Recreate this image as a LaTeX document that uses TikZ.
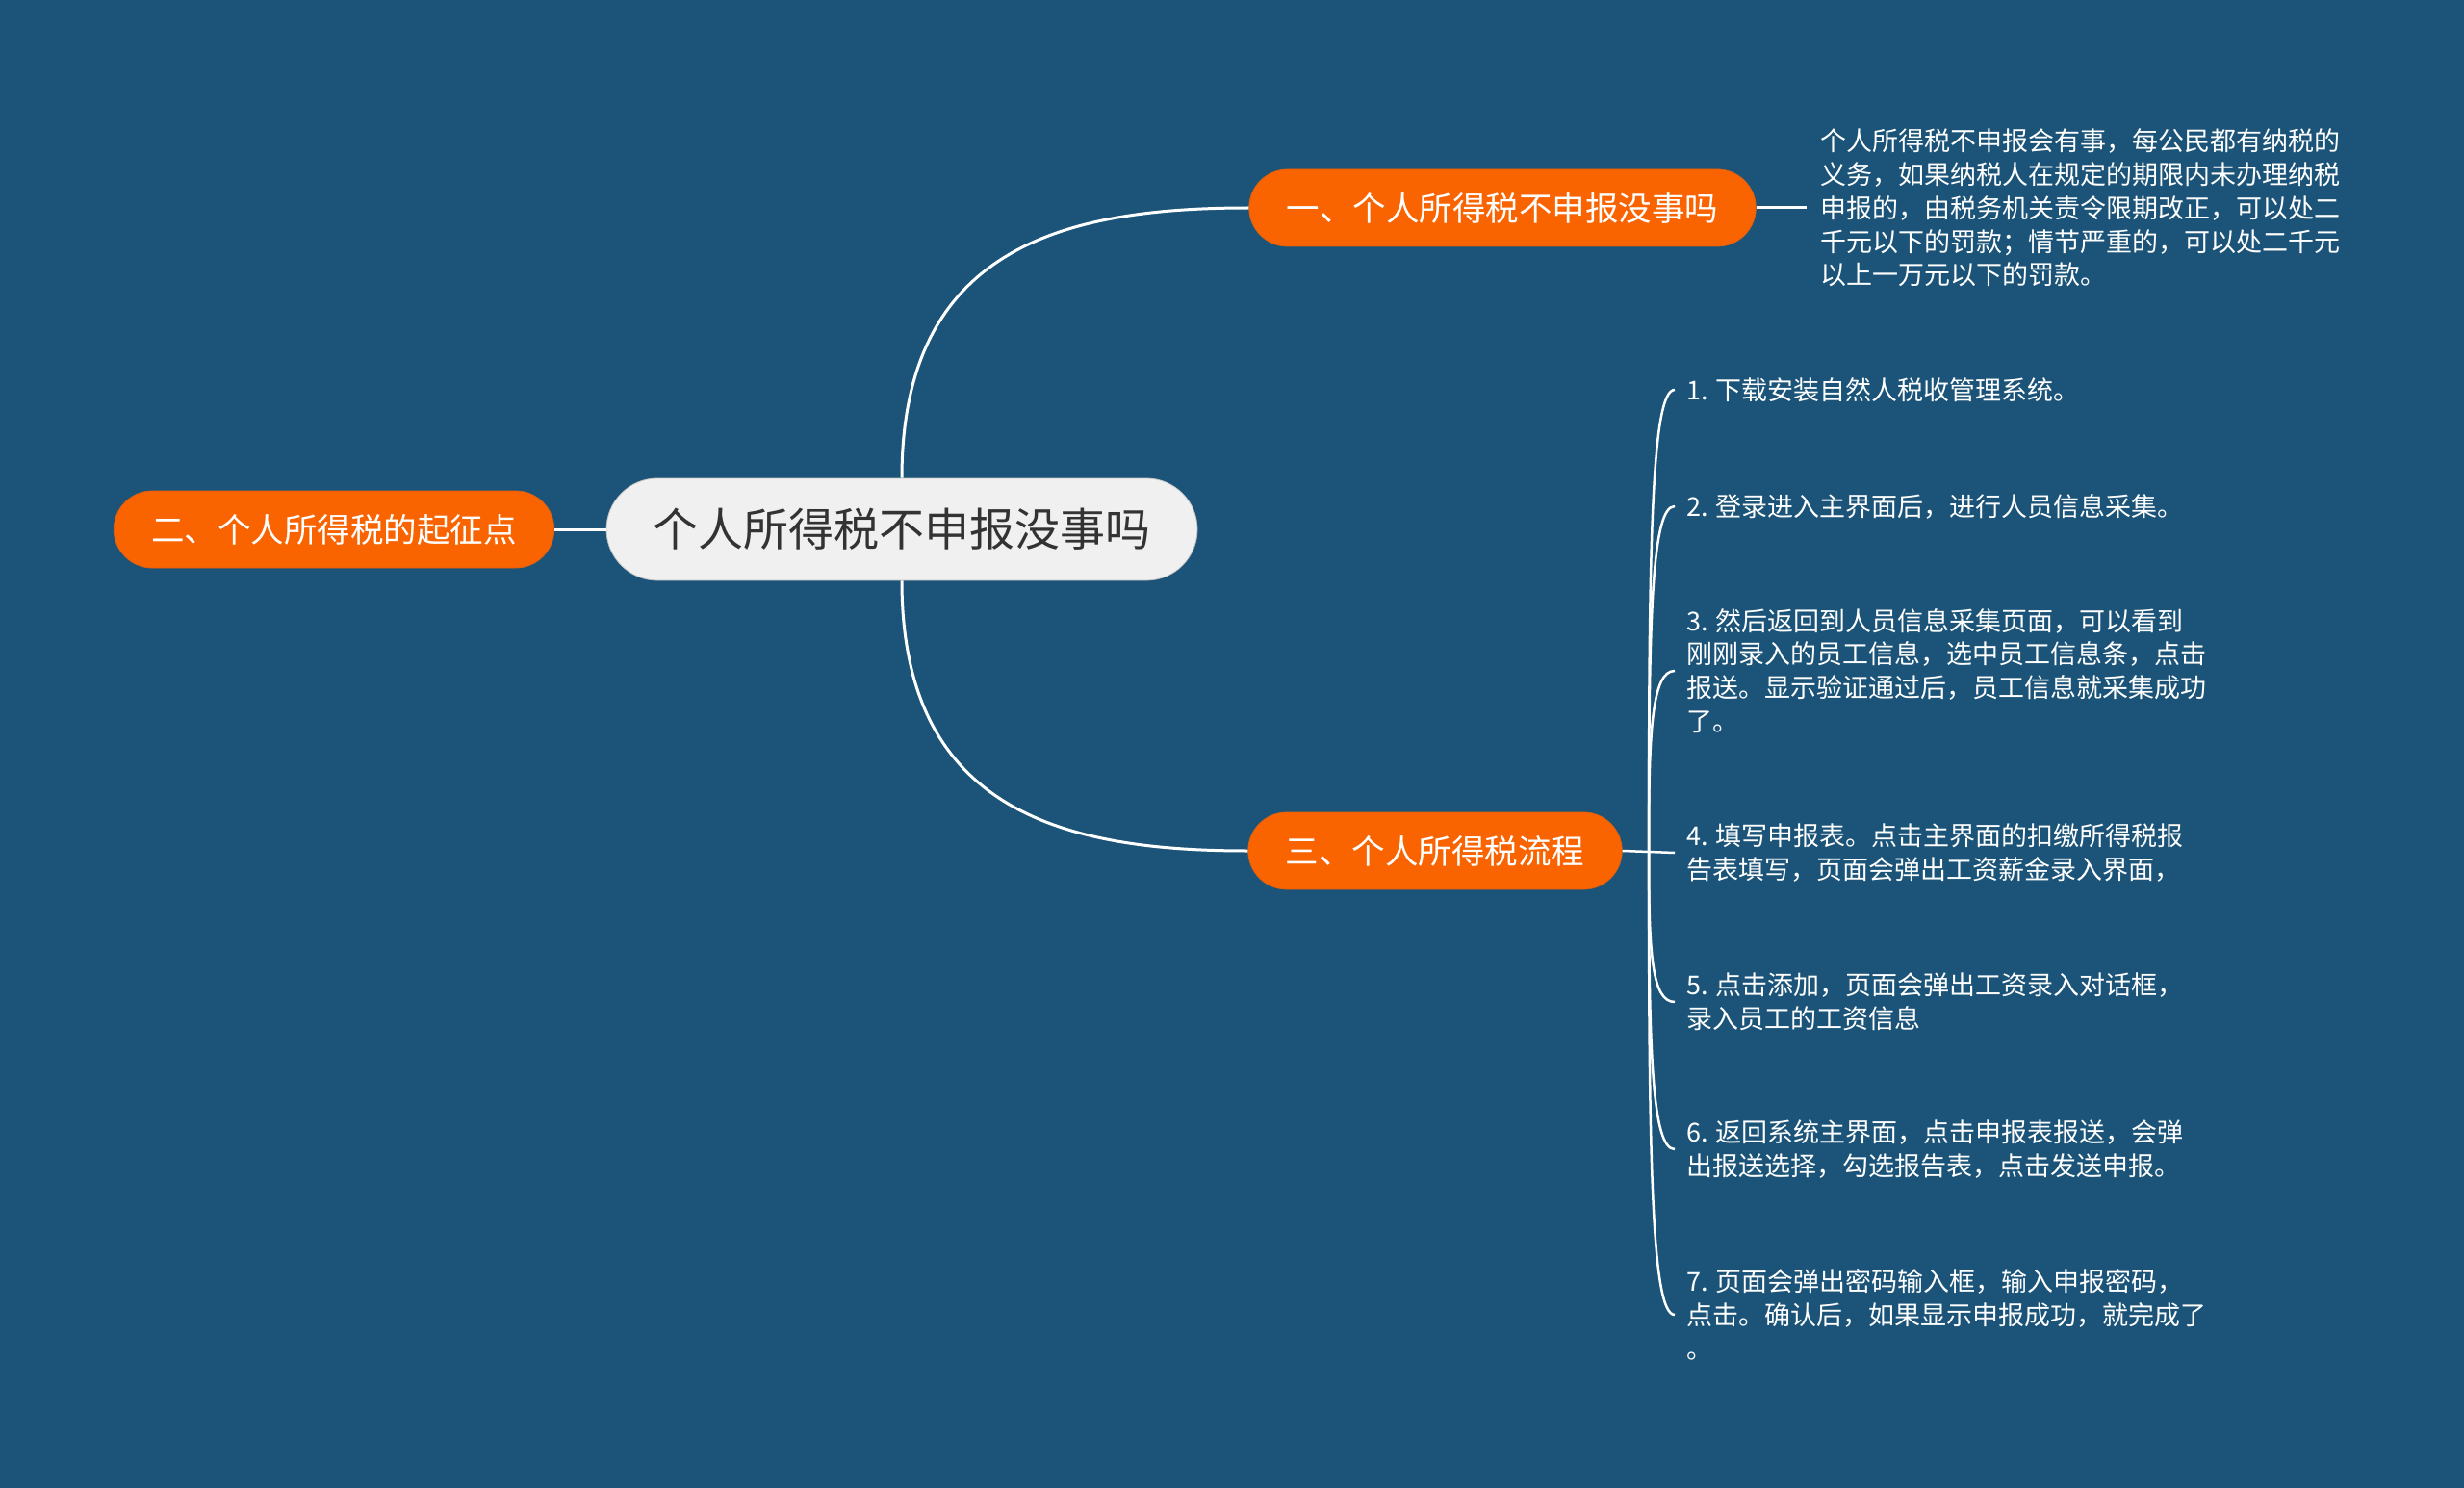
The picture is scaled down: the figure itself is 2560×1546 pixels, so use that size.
\documentclass[tikz,border=0pt]{standalone}
\usepackage{fontspec}
\setmainfont{Noto Sans CJK SC}
\definecolor{bgblue}{HTML}{1B5478}
\definecolor{topicorange}{HTML}{F96300}
\definecolor{topicedge}{HTML}{E0600F}
\definecolor{rootfill}{HTML}{F0F0F0}
\definecolor{roottext}{HTML}{333333}
\begin{document}
\begin{tikzpicture}[x=1pt,y=-1pt,
  rootbox/.style={fill=rootfill, draw=rootfill!80!black, line width=0.8pt, rounded corners=53pt, minimum width=614pt, minimum height=106pt, text=roottext, font=\fontsize{47}{56}\selectfont, inner sep=0pt},
  topic/.style={fill=topicorange, draw=topicedge, line width=0.8pt, rounded corners=40pt, minimum height=80pt, inner xsep=39pt, inner ysep=0pt, text=white, font=\fontsize{34.5}{40}\selectfont},
  leaf/.style={align=left, text=white, font=\fontsize{27}{34.8}\selectfont, inner xsep=12pt, inner ysep=0pt, anchor=west},
  conn/.style={draw=white, line width=3pt},
  subconn/.style={draw=white, line width=2.5pt}
]
\fill[bgblue] (0,0) rectangle (2560,1546);
\useasboundingbox (0,0) rectangle (2560,1546);

\node[rootbox] (root) at (937,550) {个人所得税不申报没事吗};
\node[topic] (t1) at (1561,216) {一、个人所得税不申报没事吗};
\node[topic] (t2) at (347,550) {二、个人所得税的起征点};
\node[topic] (t3) at (1491,884) {三、个人所得税流程};

\node[leaf, inner xsep=14pt] (d1) at (1877,216) {个人所得税不申报会有事，每公民都有纳税的\\义务，如果纳税人在规定的期限内未办理纳税\\申报的，由税务机关责令限期改正，可以处二\\千元以下的罚款；情节严重的，可以处二千元\\以上一万元以下的罚款。};

\node[leaf] (i1) at (1740,405) {1. 下载安装自然人税收管理系统。};
\node[leaf] (i2) at (1740,526) {2. 登录进入主界面后，进行人员信息采集。};
\node[leaf] (i3) at (1740,697) {3. 然后返回到人员信息采集页面，可以看到\\刚刚录入的员工信息，选中员工信息条，点击\\报送。显示验证通过后，员工信息就采集成功\\了。};
\node[leaf] (i4) at (1740,886) {4. 填写申报表。点击主界面的扣缴所得税报\\告表填写，页面会弹出工资薪金录入界面，};
\node[leaf] (i5) at (1740,1041) {5. 点击添加，页面会弹出工资录入对话框，\\录入员工的工资信息};
\node[leaf] (i6) at (1740,1194) {6. 返回系统主界面，点击申报表报送，会弹\\出报送选择，勾选报告表，点击发送申报。};
\node[leaf] (i7) at (1740,1366) {7. 页面会弹出密码输入框，输入申报密码，\\点击。确认后，如果显示申报成功，就完成了\\。};

\draw[conn] (root.north) .. controls (937,260) and (1100,216) .. (t1.west);
\draw[conn] (root.south) .. controls (937,840) and (1100,884) .. (t3.west);
\draw[conn] (t2.east) -- (root.west);
\draw[conn] (t1.east) -- (d1.west);

\coordinate (sp) at (1713,884);
\draw[subconn] (t3.east) -- (i4.west);
\draw[subconn] (sp) .. controls (1713,560) and (1716,405) .. (i1.west);
\draw[subconn] (sp) .. controls (1713,640) and (1716,526) .. (i2.west);
\draw[subconn] (sp) .. controls (1713,760) and (1716,697) .. (i3.west);
\draw[subconn] (sp) .. controls (1713,990) and (1716,1041) .. (i5.west);
\draw[subconn] (sp) .. controls (1713,1090) and (1716,1194) .. (i6.west);
\draw[subconn] (sp) .. controls (1713,1210) and (1716,1366) .. (i7.west);
\end{tikzpicture}
\end{document}
